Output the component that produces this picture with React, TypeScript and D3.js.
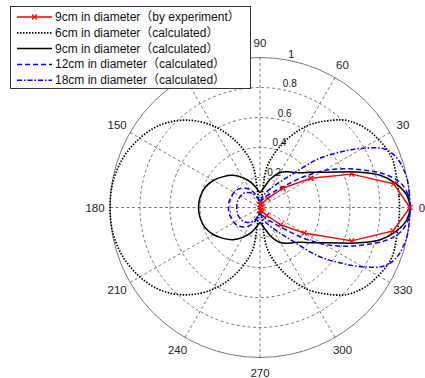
import * as d3 from "d3";
import { useEffect, useRef } from "react";

// calculated patterns, upper half (0..180 deg); the lower half mirrors it
const calcAngles = [0, 5, 10, 15, 20, 25, 30, 35, 40, 45, 50, 60, 70, 80, 90, 100, 110, 120, 130, 140, 150, 160, 170, 180];
const calc6cm = [0.93, 0.93, 0.93, 0.935, 0.94, 0.93, 0.91, 0.89, 0.86, 0.82, 0.76, 0.63, 0.46, 0.28, 0.03, 0.29, 0.47, 0.63, 0.76, 0.86, 0.925, 0.97, 0.995, 1.0];
const calc9cm = [1.0, 0.98, 0.92, 0.83, 0.69, 0.56, 0.47, 0.41, 0.36, 0.33, 0.31, 0.27, 0.2, 0.13, 0.1, 0.13, 0.18, 0.23, 0.28, 0.32, 0.36, 0.39, 0.405, 0.41];
const calc12cm = [1.0, 0.99, 0.95, 0.86, 0.73, 0.61, 0.49, 0.36, 0.24, 0.17, 0.13, 0.09, 0.06, 0.04, 0.03, 0.06, 0.1, 0.14, 0.17, 0.19, 0.2, 0.205, 0.21, 0.21];
const calc18cm = [1.0, 1.0, 1.0, 0.99, 0.97, 0.92, 0.79, 0.64, 0.5, 0.33, 0.24, 0.15, 0.1, 0.06, 0.03, 0.05, 0.08, 0.11, 0.13, 0.145, 0.15, 0.155, 0.155, 0.155];

// measured 9cm pattern
const expAngles = [-90, -80, -70, -60, -50, -40, -30, -20, -10, 0, 10, 20, 30, 40, 50, 60, 70, 80, 90];
const exp9cm = [0.02, 0.02, 0.02, 0.03, 0.07, 0.18, 0.34, 0.65, 0.9, 1.0, 0.905, 0.65, 0.39, 0.2, 0.08, 0.03, 0.02, 0.02, 0.02];

const rTicks = [0.2, 0.4, 0.6, 0.8, 1];
const thetaTicks = [0, 30, 60, 90, 120, 150, 180, 210, 240, 270, 300, 330];

const legendLabels = [
  "9cm in diameter（by experiment）",
  "6cm in diameter（calculated）",
  "9cm in diameter（calculated）",
  "12cm in diameter（calculated）",
  "18cm in diameter（calculated）",
];

const styles = [
  { color: "#ff0000", dash: null, width: 1.4 },
  { color: "#000000", dash: "1.5,1.5", width: 1.7 },
  { color: "#000000", dash: null, width: 1.5 },
  { color: "#0000ff", dash: "5,3", width: 1.5 },
  { color: "#0000ff", dash: "5,2,1.5,2", width: 1.5 },
];

const FONT = "'Liberation Sans', Arial, 'Noto Sans CJK JP', sans-serif";

function mirror(angles: number[], values: number[]) {
  const pts = angles.map((a, i) => [a, values[i]]);
  for (let i = angles.length - 2; i >= 1; i--) pts.push([360 - angles[i], values[i]]);
  return pts;
}

function PolarChart() {
  const ref = useRef(null);
  const width = 425;
  const height = 378;
  const cx = 260;
  const cy = 207.5;
  const R = 150;

  useEffect(() => {
    const svg = d3.select(ref.current).attr("width", width).attr("height", height);
    svg.selectAll("*").remove();
    const r = d3.scaleLinear().domain([0, 1]).range([0, R]);
    const toRad = (deg: number) => (deg * Math.PI) / 180;
    const g = svg.append("g").attr("transform", `translate(${cx},${cy})`);

    // grid circles
    rTicks.forEach((t) => {
      g.append("circle")
        .attr("r", r(t))
        .attr("fill", "none")
        .attr("stroke", t === 1 ? "#777" : "#555")
        .attr("stroke-width", t === 1 ? 1 : 0.8)
        .attr("stroke-dasharray", t === 1 ? null : "3,2.5");
    });
    // spokes
    thetaTicks.slice(0, 6).forEach((a) => {
      g.append("line")
        .attr("x1", r(1) * Math.cos(toRad(a)))
        .attr("y1", -r(1) * Math.sin(toRad(a)))
        .attr("x2", -r(1) * Math.cos(toRad(a)))
        .attr("y2", r(1) * Math.sin(toRad(a)))
        .attr("stroke", "#555")
        .attr("stroke-width", 0.8)
        .attr("stroke-dasharray", "3,2.5");
    });
    // angle labels
    thetaTicks.forEach((a) => {
      g.append("text")
        .attr("x", r(1.1) * Math.cos(toRad(a)) - (a === 0 ? 3 : 0))
        .attr("y", -r(1.1) * Math.sin(toRad(a)))
        .attr("text-anchor", "middle")
        .attr("dominant-baseline", "central")
        .attr("font-family", FONT)
        .attr("font-size", 11.5)
        .attr("fill", "#222")
        .text(a);
    });
    // radius labels
    rTicks.forEach((t) => {
      g.append("text")
        .attr("x", r(t) * Math.cos(toRad(80)) + 2)
        .attr("y", -r(t) * Math.sin(toRad(80)) - 2)
        .attr("font-family", FONT)
        .attr("font-size", t === 1 ? 11.5 : 10)
        .attr("fill", "#222")
        .text(t);
    });

    const radial = d3
      .lineRadial<number[]>()
      .angle((d) => Math.PI / 2 - toRad(d[0]))
      .radius((d) => r(d[1]));

    const calcSeries = [calc6cm, calc9cm, calc12cm, calc18cm];
    calcSeries.forEach((vals, i) => {
      const s = styles[i + 1];
      g.append("path")
        .datum(mirror(calcAngles, vals))
        .attr("d", radial.curve(d3.curveCatmullRomClosed.alpha(0.5)))
        .attr("fill", "none")
        .attr("stroke", s.color)
        .attr("stroke-width", s.width)
        .attr("stroke-dasharray", s.dash);
    });

    // experiment (straight segments with x markers)
    const expPts = expAngles.map((a, i) => [a, exp9cm[i]]);
    g.append("path")
      .datum(expPts)
      .attr("d", radial.curve(d3.curveLinear))
      .attr("fill", "none")
      .attr("stroke", styles[0].color)
      .attr("stroke-width", styles[0].width);
    const m = 2.5;
    expPts.forEach(([a, v]) => {
      const x = r(v) * Math.cos(toRad(a));
      const y = -r(v) * Math.sin(toRad(a));
      g.append("path")
        .attr("d", `M${x - m},${y - m}L${x + m},${y + m}M${x - m},${y + m}L${x + m},${y - m}`)
        .attr("stroke", styles[0].color)
        .attr("stroke-width", 1.2);
    });

    // legend
    const lg = svg.append("g");
    lg.append("rect")
      .attr("x", 10.5)
      .attr("y", 6.5)
      .attr("width", 240)
      .attr("height", 82)
      .attr("fill", "#fff")
      .attr("stroke", "#333")
      .attr("stroke-width", 1);
    legendLabels.forEach((label, i) => {
      const y = 17 + i * 15.8;
      const s = styles[i];
      lg.append("line")
        .attr("x1", 17)
        .attr("x2", 52)
        .attr("y1", y)
        .attr("y2", y)
        .attr("stroke", s.color)
        .attr("stroke-width", s.width)
        .attr("stroke-dasharray", s.dash);
      if (i === 0) {
        lg.append("path")
          .attr("d", `M${34.5 - m},${y - m}L${34.5 + m},${y + m}M${34.5 - m},${y + m}L${34.5 + m},${y - m}`)
          .attr("stroke", s.color)
          .attr("stroke-width", 1.2);
      }
      lg.append("text")
        .attr("x", 55)
        .attr("y", y)
        .attr("dominant-baseline", "central")
        .attr("font-family", FONT)
        .attr("font-size", 12)
        .attr("fill", "#111")
        .text(label);
    });
  });

  return <svg ref={ref} style={{ position: "absolute", left: 0, top: 0, background: "#fff" }} />;
}

export default function App() {
  return <PolarChart />;
}
